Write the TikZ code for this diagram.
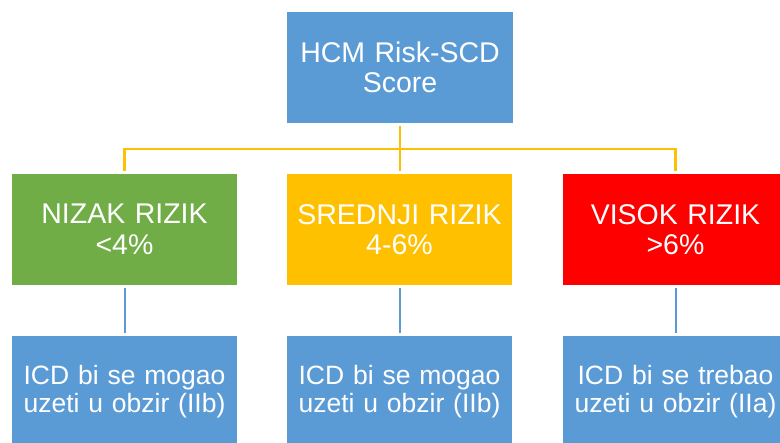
\documentclass[tikz,border=0pt]{standalone}
\usepackage{fontspec}
\setmainfont{Liberation Sans}
\definecolor{cblue}{HTML}{5B9BD5}
\definecolor{cgreen}{HTML}{70AD47}
\definecolor{cyellow}{HTML}{FFC000}
\definecolor{cred}{HTML}{FF0000}
\begin{document}
\begin{tikzpicture}[x=1pt,y=-1pt,
  box/.style={minimum width=225pt,minimum height=111pt,inner sep=0pt,text=white,align=center,text width=220pt},
  bigtxt/.style={font=\fontsize{28.5}{30.5}\selectfont},
  smalltxt/.style={font=\fontsize{26.5}{27.5}\selectfont},
  yl/.style={draw=cyellow,line width=2.3pt,shorten <=3pt,shorten >=3pt},
  bl/.style={draw=cblue,line width=2pt,shorten <=3pt,shorten >=2.5pt}]
\useasboundingbox (0,0) rectangle (780,443);
\clip (0,0) rectangle (780,443);
\fill[white] (0,0) rectangle (780,443);
\node[box,bigtxt,fill=cblue,minimum width=226pt] (top) at (400,67.5) {HCM Risk-SCD\\Score};
\node[box,bigtxt,fill=cgreen] (low) at (124.5,229.5) {NIZAK RIZIK\\<4\%};
\node[box,bigtxt,fill=cyellow] (mid) at (399.5,229.5) {SREDNJI RIZIK\\4-6\%};
\node[box,bigtxt,fill=cred] (high) at (675.5,229.5) {VISOK RIZIK\\>6\%};
\node[box,smalltxt,fill=cblue] (lowd) at (124.5,391.5) {ICD bi se mogao\\uzeti u obzir (IIb)};
\node[box,smalltxt,fill=cblue] (midd) at (399.5,391.5) {ICD bi se mogao\\uzeti u obzir (IIb)};
\node[box,smalltxt,fill=cblue] (highd) at (675.5,391.5) {ICD bi se trebao\\uzeti u obzir (IIa)};
\draw[yl] (top.south) -- ++(0,25.5) -| (low.north);
\draw[yl] (top.south) -- ++(0,25.5) -| (high.north);
\draw[yl] (top.south) -- (top.south |- mid.north);
\draw[bl] (low.south) -- (lowd.north);
\draw[bl] (mid.south) -- (midd.north);
\draw[bl] (high.south) -- (highd.north);
\end{tikzpicture}
\end{document}
